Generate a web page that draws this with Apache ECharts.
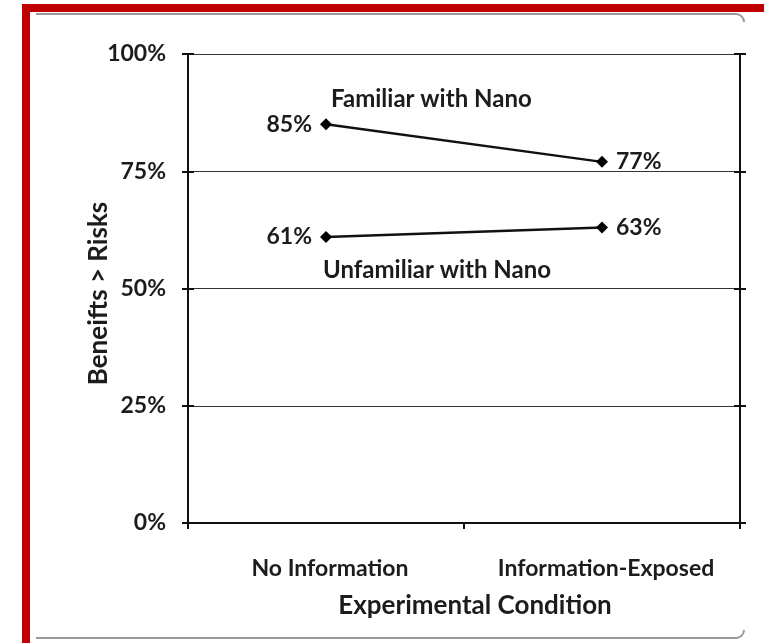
<!DOCTYPE html>
<html>
<head>
<meta charset="utf-8">
<script src="https://cdn.jsdelivr.net/npm/echarts@6/dist/echarts.min.js"></script>
<style>
html,body{margin:0;padding:0;background:#fff;}
#chart{width:764px;height:643px;}
</style>
</head>
<body>
<div id="chart"></div>
<script>
const categories = ['No Information', 'Information-Exposed'];
const familiarValues = [85, 77];
const unfamiliarValues = [61, 63];
const seriesNames = ['Familiar with Nano', 'Unfamiliar with Nano'];
const yTicks = [0, 25, 50, 75, 100];

const FONT = 'Lato';
const TXT = '#1c1c1c';
const FW = 'bold';
const LBL = 23;
const TTL = 26;

const chart = echarts.init(document.getElementById('chart'), null, {renderer: 'canvas'});

function pointData(vals, positions) {
  return vals.map((v, i) => ({
    value: v,
    label: {position: positions[i]}
  }));
}

function extraY(pos, inside) {
  return {
    type: 'value', position: pos, min: yTicks[0], max: yTicks[yTicks.length - 1], interval: 25,
    axisLine: {show: true, lineStyle: {color: '#111', width: 2}},
    axisTick: {show: true, inside: inside, length: 6, lineStyle: {color: '#111', width: 2}},
    axisLabel: {show: false},
    splitLine: {show: false}
  };
}

const option = {
  backgroundColor: '#fff',
  animation: false,
  grid: {left: 188, right: 24, top: 54, bottom: 120},
  graphic: [
    {type: 'rect', shape: {x: 22, y: 4, width: 742, height: 8}, style: {fill: '#c00000'}},
    {type: 'rect', shape: {x: 22, y: 4, width: 8, height: 639}, style: {fill: '#c00000'}},
    {type: 'line', shape: {x1: 36, y1: 14, x2: 736, y2: 14}, style: {stroke: '#999', lineWidth: 2}},
    {type: 'line', shape: {x1: 36, y1: 638, x2: 736, y2: 638}, style: {stroke: '#999', lineWidth: 2}},
    {type: 'arc', shape: {cx: 736, cy: 22, r: 8, startAngle: -Math.PI / 2, endAngle: 0}, style: {stroke: '#999', lineWidth: 2, fill: null}},
    {type: 'arc', shape: {cx: 736, cy: 630, r: 8, startAngle: 0, endAngle: Math.PI / 2}, style: {stroke: '#999', lineWidth: 2, fill: null}}
  ],
  xAxis: {
    type: 'category',
    data: categories,
    boundaryGap: true,
    axisLine: {show: true, lineStyle: {color: '#111', width: 2}},
    axisTick: {show: true, length: 6, lineStyle: {color: '#111', width: 2}},
    axisLabel: {interval: 0, hideOverlap: false, margin: 34, padding: [0, 0, 0, 8], fontFamily: FONT, fontWeight: FW, fontSize: LBL, color: TXT},
    name: 'Experimental Condition',
    nameLocation: 'middle',
    nameGap: 70,
    nameTextStyle: {fontFamily: FONT, fontWeight: FW, fontSize: TTL, color: TXT, padding: [0, 0, 0, 22]},
    splitLine: {show: false}
  },
  yAxis: [
    {
      type: 'value', position: 'left', min: yTicks[0], max: yTicks[yTicks.length - 1], interval: 25,
      axisLine: {show: true, lineStyle: {color: '#111', width: 2}},
      axisTick: {show: true, length: 6, lineStyle: {color: '#111', width: 2}},
      axisLabel: {formatter: '{value}%', margin: 22, fontFamily: FONT, fontWeight: FW, fontSize: LBL, color: TXT},
      splitLine: {show: true, lineStyle: {color: '#333', width: 1}},
      name: 'Beneifts > Risks',
      nameLocation: 'middle',
      nameGap: 76,
      nameRotate: 90,
      nameMoveOverlap: false,
      nameTextStyle: {fontFamily: FONT, fontWeight: FW, fontSize: TTL, lineHeight: 26, color: TXT, padding: [0, 10, 0, 0]}
    },
    extraY('left', true),
    extraY('right', true),
    extraY('right', false)
  ],
  series: [
    {
      name: seriesNames[0],
      type: 'line',
      yAxisIndex: 0,
      data: pointData(familiarValues, ['left', 'right']),
      symbol: 'diamond',
      symbolSize: 12,
      itemStyle: {color: '#000'},
      lineStyle: {color: '#111', width: 2.5},
      label: {show: true, formatter: '{c}%', distance: 8, fontFamily: FONT, fontWeight: FW, fontSize: LBL, color: TXT},
      markPoint: {
        symbol: 'circle', symbolSize: 0,
        data: [{coord: [0, familiarValues[0]], value: seriesNames[0]}],
        label: {show: true, formatter: seriesNames[0], position: 'right', distance: 5, offset: [0, -25],
                fontFamily: FONT, fontWeight: FW, fontSize: 24, color: TXT}
      }
    },
    {
      name: seriesNames[1],
      type: 'line',
      yAxisIndex: 0,
      data: pointData(unfamiliarValues, ['left', 'right']),
      symbol: 'diamond',
      symbolSize: 12,
      itemStyle: {color: '#000'},
      lineStyle: {color: '#111', width: 2.5},
      label: {show: true, formatter: '{c}%', distance: 8, fontFamily: FONT, fontWeight: FW, fontSize: LBL, color: TXT},
      markPoint: {
        symbol: 'circle', symbolSize: 0,
        data: [{coord: [0, unfamiliarValues[0]], value: seriesNames[1]}],
        label: {show: true, formatter: seriesNames[1], position: 'right', distance: 0, offset: [-3, 33],
                fontFamily: FONT, fontWeight: FW, fontSize: 24, color: TXT}
      }
    }
  ]
};

chart.setOption(option);
</script>
</body>
</html>
